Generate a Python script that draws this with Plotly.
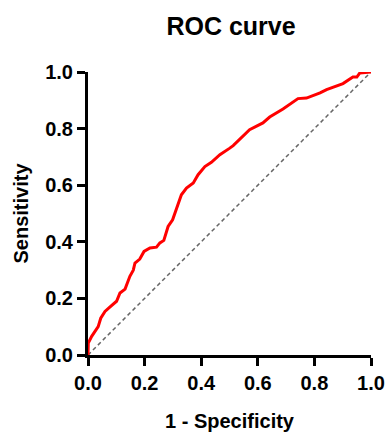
import plotly.graph_objects as go

fpr = [0, 0.001, 0.013, 0.036, 0.045, 0.06, 0.078, 0.101, 0.113, 0.131, 0.148, 0.16, 0.166,
       0.183, 0.198, 0.219, 0.242, 0.254, 0.268, 0.283, 0.299, 0.313, 0.325, 0.33, 0.348,
       0.372, 0.389, 0.413, 0.436, 0.466, 0.501, 0.513, 0.571, 0.618, 0.642, 0.689, 0.742,
       0.772, 0.82, 0.843, 0.901, 0.936, 0.95, 0.96, 1.0]
tpr = [0, 0.042, 0.066, 0.10, 0.13, 0.154, 0.17, 0.19, 0.219, 0.233, 0.278, 0.30, 0.325,
       0.339, 0.366, 0.378, 0.381, 0.396, 0.405, 0.454, 0.478, 0.519, 0.549, 0.566, 0.59,
       0.608, 0.637, 0.666, 0.681, 0.708, 0.731, 0.74, 0.796, 0.82, 0.841, 0.869, 0.906,
       0.908, 0.926, 0.938, 0.959, 0.982, 0.982, 0.996, 1.0]
ref_x = [0, 1]
ref_y = [0, 1]
tick_vals = [0, 0.2, 0.4, 0.6, 0.8, 1.0]
tick_text = ["0.0", "0.2", "0.4", "0.6", "0.8", "1.0"]

FONT = "Liberation Sans, Arial, sans-serif"
W, H = 386, 432

fig = go.Figure()
fig.add_trace(go.Scatter(x=ref_x, y=ref_y, mode="lines",
                         line=dict(color="#666666", width=1.5, dash="4px,3px"),
                         hoverinfo="skip", showlegend=False))
fig.add_trace(go.Scatter(x=fpr, y=tpr, mode="lines",
                         line=dict(color="#ff0000", width=3),
                         showlegend=False))

axis_common = dict(
    range=[0, 1], showgrid=False, zeroline=False,
    showline=True, linecolor="black", linewidth=3,
    ticks="outside", ticklen=8, tickwidth=3, tickcolor="black",
    tickvals=tick_vals, ticktext=tick_text, ticklabeloverflow="allow",
    tickfont=dict(family=FONT, size=20, color="black", weight="bold"),
)

fig.update_layout(
    width=W, height=H,
    margin=dict(l=88, r=15, t=72, b=77, autoexpand=False),
    paper_bgcolor="white", plot_bgcolor="white",
    title=dict(text="<b>ROC curve</b>", x=231 / W, xanchor="center",
               y=1 - 26 / H, yanchor="middle", yref="container",
               font=dict(family=FONT, size=25, color="black")),
    xaxis=dict(**axis_common,
               title=dict(text="<b>1 - Specificity</b>", standoff=23,
                          font=dict(family=FONT, size=20, color="black"))),
    yaxis=dict(**axis_common,
               title=dict(text="<b>Sensitivity</b>", standoff=12,
                          font=dict(family=FONT, size=20, color="black"))),
)

fig.write_html(
    "out.html",
    config={"displayModeBar": False},
    post_script="document.body.style.margin='0';document.body.style.overflow='hidden';",
)
